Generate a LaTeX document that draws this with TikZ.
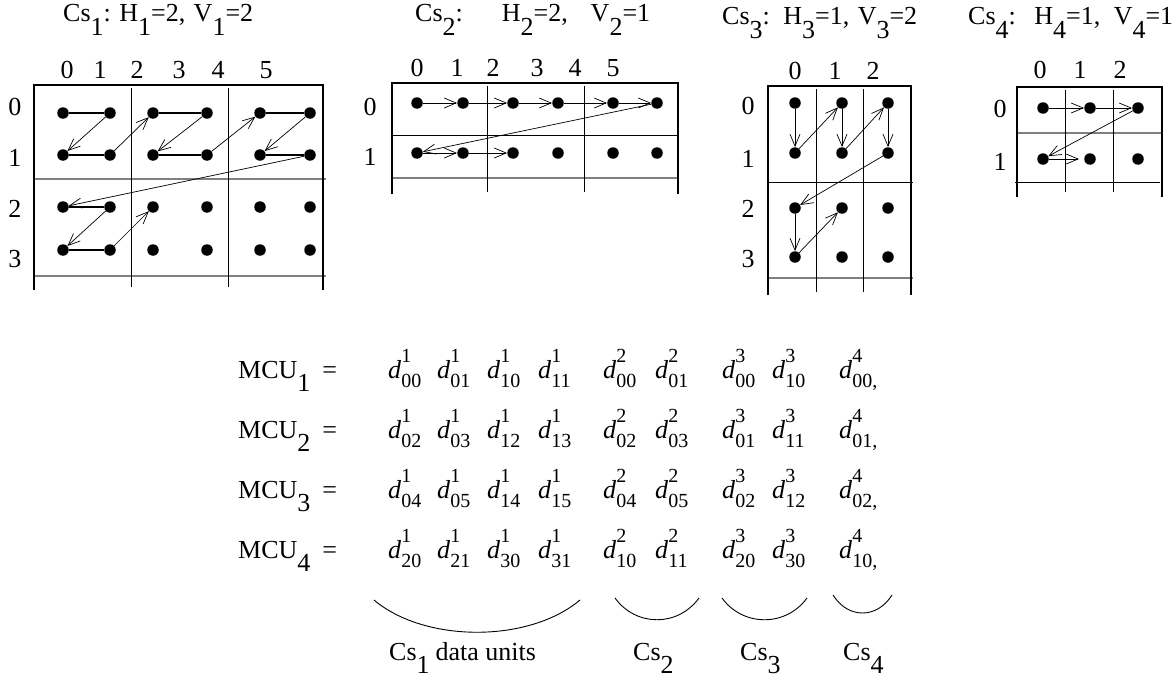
\documentclass[tikz,border=0pt]{standalone}
\usepackage{fontspec}
\setmainfont{Liberation Serif}
\usetikzlibrary{arrows.meta}
\newcommand\lsub[1]{\raisebox{-0.52em}{#1}}
\newcommand\dd[3]{{\fontsize{26}{26}\selectfont\textit{d}\rlap{\raisebox{16pt}{\fontsize{20}{20}\selectfont #1}}\raisebox{-9pt}{\fontsize{20}{20}\selectfont #2#3}}}
\tikzset{
  dot/.style={circle,fill=black,inner sep=0pt,minimum size=11.5pt},
  lbl/.style={inner sep=0pt,anchor=base,font=\fontsize{26}{26}\selectfont},
  ttl/.style={inner sep=0pt,anchor=base west,font=\fontsize{26}{26}\selectfont},
  mcu/.style={inner sep=0pt,anchor=base west,font=\fontsize{26}{26}\selectfont},
  dn/.style={inner sep=0pt,anchor=base west},
  frame/.style={line width=2.5pt},
  thin/.style={line width=0.8pt},
  grayl/.style={line width=1.3pt,black!50},
  seg/.style={line width=1.1pt},
  arr/.style={line width=0.7pt,-{Straight Barb[length=12pt,width=10pt,line width=0.7pt]}},
  arc/.style={line width=0.9pt}
}
\newcommand\mcurow[3]{%
  \node[mcu] (mcu#1) at (238,#2) {MCU\lsub{#1}\hspace{12pt}=};
  \foreach \s/\b [count=\k] in {#3} {
    \pgfmathsetmacro\xx{{388,437,487,538,603,655,722,772,839}[\k-1]}
    \node[dn] (d#1-\k) at (\xx,#2) {\dd{\s}{\b}{\ifnum\k=9 ,\fi}};
  }}
\begin{document}
\begin{tikzpicture}[x=1pt,y=-1pt]
\useasboundingbox (0,0) rectangle (1175,677);

% ---------- titles
\node[ttl] (t1) at (63,22) {\makebox[190pt][s]{Cs\lsub{1}:\hspace{4pt plus 1fill}H\lsub{1}=2,\hspace{4pt plus 1fill}V\lsub{1}=2}};
\node[ttl] (t2) at (415,22) {\makebox[235pt][s]{Cs\lsub{2}:\hspace{12pt plus 1.5fill}H\lsub{2}=2,\hspace{5pt plus 1fill}V\lsub{2}=1}};
\node[ttl] (t3) at (722,25) {\makebox[195pt][s]{Cs\lsub{3}:\hspace{10pt plus 1fill}H\lsub{3}=1,\hspace{5pt plus 1fill}V\lsub{3}=2}};
\node[ttl] (t4) at (968,25) {\makebox[205pt][s]{Cs\lsub{4}:\hspace{10pt plus 1fill}H\lsub{4}=1,\hspace{5pt plus 1fill}V\lsub{4}=1}};

% ---------- grid 1
\draw[grayl] (34,179) -- (326,179);
\draw[grayl] (34,276) -- (326,276);
\draw[thin] (131,88) -- (131,287);
\draw[thin] (228,88) -- (228,287);
\draw[frame] (34,290) -- (34,85) -- (323,85) -- (323,290);
\foreach \x/\t [count=\i from 0] in {67/0,100/1,137/2,179/3,218/4,266/5}
  \node[lbl] (a-c\i) at (\x,78) {\t};
\foreach \y/\t [count=\i from 0] in {115/0,166/1,217/2,267/3}
  \node[lbl] (a-r\i) at (15,\y) {\t};
\foreach \x [count=\i from 0] in {63,110,153,207,260,310}
  \foreach \y [count=\j from 0] in {113,155,207,250}
    \node[dot] (a\j\i) at (\x,\y) {};
\draw[seg] (a00) -- (a01);
\draw[arr] (a01) -- (a10);
\draw[seg] (a10) -- (a11);
\draw[arr] (a11) -- (a02);
\draw[seg] (a02) -- (a03);
\draw[arr] (a03) -- (a12);
\draw[seg] (a12) -- (a13);
\draw[arr] (a13) -- (a04);
\draw[seg] (a04) -- (a05);
\draw[arr] (a05) -- (a14);
\draw[seg] (a14) -- (a15);
\draw[arr] (a15) -- (a20);
\draw[seg] (a20) -- (a21);
\draw[arr] (a21) -- (a30);
\draw[seg] (a30) -- (a31);
\draw[arr] (a31) -- (a22);

% ---------- grid 2
\draw[thin] (392,135) -- (678,135);
\draw[grayl] (392,178) -- (678,178);
\draw[thin] (487,86) -- (487,192);
\draw[thin] (584,86) -- (584,192);
\draw[frame] (392,194) -- (392,83) -- (678,83) -- (678,194);
\foreach \x/\t [count=\i from 0] in {417/0,457/1,493/2,537/3,575/4,613/5}
  \node[lbl] (b-c\i) at (\x,77) {\t};
\foreach \y/\t [count=\i from 0] in {115/0,165/1}
  \node[lbl] (b-r\i) at (370,\y) {\t};
\foreach \x [count=\i from 0] in {417,463,513,558,613,657}
  \foreach \y [count=\j from 0] in {103,153}
    \node[dot] (b\j\i) at (\x,\y) {};
\draw[arr] (b00) -- (b01);
\draw[arr] (b01) -- (b02);
\draw[arr] (b02) -- (b03);
\draw[arr] (b03) -- (b04);
\draw[arr] (b04) -- (b05);
\draw[arr] (b05) -- (b10);
\draw[arr] (b10) -- (b11);
\draw[arr] (b11) -- (b12);

% ---------- grid 3
\draw[thin] (768,182) -- (913,182);
\draw[grayl] (768,278) -- (913,278);
\draw[thin] (816,89) -- (816,292);
\draw[thin] (863,89) -- (863,292);
\draw[frame] (768,295) -- (768,86) -- (911,86) -- (911,295);
\foreach \x/\t [count=\i from 0] in {795/0,835/1,873/2}
  \node[lbl] (c-c\i) at (\x,80) {\t};
\foreach \y/\t [count=\i from 0] in {114/0,167/1,217/2,267/3}
  \node[lbl] (c-r\i) at (748,\y) {\t};
\foreach \x [count=\i from 0] in {795,842,888}
  \foreach \y [count=\j from 0] in {103,153,208,257}
    \node[dot] (c\j\i) at (\x,\y) {};
\draw[arr] (c00) -- (c10);
\draw[arr] (c10) -- (c01);
\draw[arr] (c01) -- (c11);
\draw[arr] (c11) -- (c02);
\draw[arr] (c02) -- (c12);
\draw[arr] (c12) -- (c20);
\draw[arr] (c20) -- (c30);
\draw[arr] (c30) -- (c21);

% ---------- grid 4
\draw[grayl] (1017,133) -- (1162,133);
\draw[thin] (1015,182) -- (1160,182);
\draw[thin] (1065,90) -- (1065,192);
\draw[thin] (1113,90) -- (1113,192);
\draw[frame] (1017,197) -- (1017,87) -- (1162,87) -- (1162,197);
\foreach \x/\t [count=\i from 0] in {1040/0,1080/1,1120/2}
  \node[lbl] (e-c\i) at (\x,78) {\t};
\foreach \y/\t [count=\i from 0] in {117/0,170/1}
  \node[lbl] (e-r\i) at (1000,\y) {\t};
\foreach \x [count=\i from 0] in {1043,1090,1138}
  \foreach \y [count=\j from 0] in {108,159}
    \node[dot] (e\j\i) at (\x,\y) {};
\draw[arr] (e00) -- (e01);
\draw[arr] (e01) -- (e02);
\draw[arr] (e02) -- (e10);
\draw[arr,shorten >=5pt] (e10) -- (e11);

% ---------- MCU equations
\mcurow{1}{378}{1/00,1/01,1/10,1/11,2/00,2/01,3/00,3/10,4/00}
\mcurow{2}{438}{1/02,1/03,1/12,1/13,2/02,2/03,3/01,3/11,4/01}
\mcurow{3}{498}{1/04,1/05,1/14,1/15,2/04,2/05,3/02,3/12,4/02}
\mcurow{4}{558}{1/20,1/21,1/30,1/31,2/10,2/11,3/20,3/30,4/10}

% ---------- braces (arcs)
\coordinate (k1a) at (374,600); \coordinate (k1b) at (580,600);
\coordinate (k2a) at (615,598); \coordinate (k2b) at (699,598);
\coordinate (k3a) at (722,598); \coordinate (k3b) at (807,598);
\coordinate (k4a) at (833,595); \coordinate (k4b) at (892,595);
\draw[arc] (k1a) .. controls (425,643) and (529,643) .. (k1b);
\draw[arc] (k2a) .. controls (636,627) and (678,627) .. (k2b);
\draw[arc] (k3a) .. controls (743,627) and (786,627) .. (k3b);
\draw[arc] (k4a) .. controls (848,619) and (877,619) .. (k4b);

\node[mcu] (l1) at (389,660) {Cs\lsub{1}\hspace{6pt}data units};
\node[mcu] (l2) at (633,660) {Cs\lsub{2}};
\node[mcu] (l3) at (740,660) {Cs\lsub{3}};
\node[mcu] (l4) at (843,660) {Cs\lsub{4}};
\end{tikzpicture}
\end{document}
